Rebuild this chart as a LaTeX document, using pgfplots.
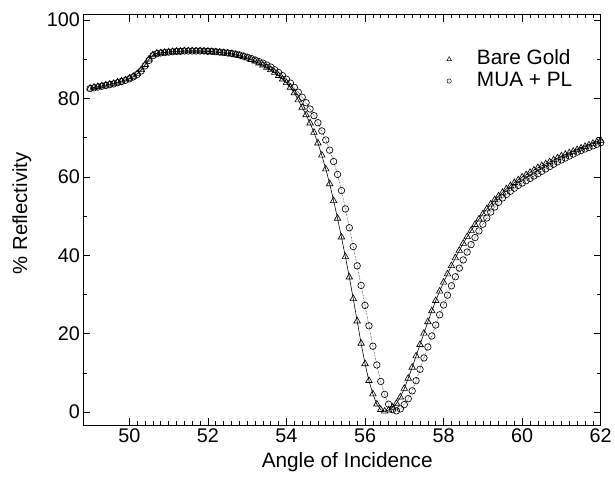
\documentclass[border=0pt]{standalone}
\usepackage{pgfplots}
\pgfplotsset{compat=1.18}
\usepackage{pgfplotstable}
\usepackage{fontspec}
\setmainfont{Liberation Sans}
\pgfplotstableread{
x y
49.0 82.6
49.1 82.8
49.2 83.0
49.3 83.2
49.4 83.4
49.5 83.6
49.6 83.8
49.7 84.1
49.8 84.4
49.9 84.7
50.0 85.1
50.1 85.6
50.2 86.3
50.3 87.3
50.4 88.6
50.5 90.0
50.6 91.1
50.7 91.5
50.8 91.6
50.9 91.7
51.0 91.8
51.1 91.9
51.2 92.0
51.3 92.0
51.4 92.1
51.5 92.1
51.6 92.1
51.7 92.1
51.8 92.1
51.9 92.0
52.0 92.0
52.1 91.9
52.2 91.8
52.3 91.7
52.4 91.6
52.5 91.5
52.6 91.3
52.7 91.1
52.8 90.9
52.9 90.6
53.0 90.3
53.1 89.9
53.2 89.5
53.3 89.0
53.4 88.5
53.5 87.9
53.6 87.3
53.7 86.6
53.8 85.8
53.9 84.9
54.0 84.0
54.1 82.8
54.2 81.4
54.3 79.6
54.4 77.7
54.5 75.8
54.6 73.7
54.7 71.3
54.8 68.6
54.9 65.5
55.0 62.0
55.1 58.2
55.2 53.9
55.3 49.4
55.4 44.6
55.5 39.6
55.6 34.4
55.7 28.9
55.8 23.2
55.9 17.5
56.0 12.3
56.1 8.0
56.2 4.6
56.3 2.0
56.4 0.6
56.5 0.2
56.6 0.5
56.7 1.2
56.8 2.2
56.9 3.8
57.0 6.0
57.1 8.6
57.2 11.4
57.3 14.3
57.4 17.2
57.5 20.1
57.6 23.0
57.7 25.8
57.8 28.4
57.9 30.8
58.0 33.1
58.1 35.2
58.2 37.3
58.3 39.3
58.4 41.2
58.5 43.0
58.6 44.7
58.7 46.3
58.8 47.8
58.9 49.2
59.0 50.5
59.1 51.8
59.2 53.0
59.3 54.1
59.4 55.1
59.5 56.0
59.6 56.9
59.7 57.7
59.8 58.5
59.9 59.2
60.0 59.9
60.1 60.5
60.2 61.1
60.3 61.7
60.4 62.3
60.5 62.8
60.6 63.3
60.7 63.8
60.8 64.3
60.9 64.8
61.0 65.3
61.1 65.7
61.2 66.1
61.3 66.5
61.4 66.9
61.5 67.3
61.6 67.7
61.7 68.1
61.8 68.5
61.9 68.9
62.0 69.3
}\baregold
\pgfplotstableread{
x y
49.0 82.5
49.1 82.7
49.2 82.9
49.3 83.1
49.4 83.3
49.5 83.5
49.6 83.7
49.7 84.0
49.8 84.3
49.9 84.6
50.0 85.0
50.1 85.5
50.2 86.1
50.3 87.0
50.4 88.3
50.5 89.7
50.6 90.9
50.7 91.4
50.8 91.6
50.9 91.7
51.0 91.8
51.1 91.9
51.2 92.0
51.3 92.0
51.4 92.1
51.5 92.1
51.6 92.1
51.7 92.1
51.8 92.1
51.9 92.1
52.0 92.0
52.1 92.0
52.2 91.9
52.3 91.8
52.4 91.7
52.5 91.6
52.6 91.5
52.7 91.3
52.8 91.1
52.9 90.8
53.0 90.5
53.1 90.2
53.2 89.8
53.3 89.4
53.4 89.0
53.5 88.5
53.6 88.0
53.7 87.3
53.8 86.6
53.9 85.8
54.0 84.9
54.1 83.9
54.2 82.8
54.3 81.6
54.4 80.3
54.5 78.9
54.6 77.3
54.7 75.6
54.8 73.8
54.9 71.7
55.0 69.4
55.1 66.8
55.2 63.9
55.3 60.6
55.4 56.5
55.5 51.8
55.6 47.0
55.7 42.2
55.8 37.3
55.9 32.3
56.0 27.2
56.1 22.0
56.2 16.8
56.3 12.0
56.4 7.8
56.5 4.5
56.6 2.0
56.7 0.6
56.8 0.3
56.9 0.8
57.0 1.9
57.1 3.4
57.2 5.4
57.3 8.0
57.4 10.9
57.5 13.8
57.6 16.6
57.7 19.4
57.8 22.2
57.9 24.8
58.0 27.3
58.1 29.8
58.2 32.2
58.3 34.5
58.4 36.7
58.5 38.8
58.6 40.8
58.7 42.7
58.8 44.5
58.9 46.2
59.0 47.9
59.1 49.5
59.2 51.0
59.3 52.3
59.4 53.5
59.5 54.6
59.6 55.5
59.7 56.3
59.8 57.1
59.9 57.8
60.0 58.4
60.1 59.0
60.2 59.6
60.3 60.2
60.4 60.8
60.5 61.4
60.6 62.0
60.7 62.6
60.8 63.2
60.9 63.8
61.0 64.3
61.1 64.8
61.2 65.3
61.3 65.8
61.4 66.3
61.5 66.7
61.6 67.1
61.7 67.5
61.8 67.9
61.9 68.3
62.0 68.7
}\muapl
\begin{document}
\begin{tikzpicture}
\begin{axis}[
  scale only axis,
  width=521bp, height=413bp,
  xmin=48.83, xmax=62.0,
  ymin=-3.3, ymax=101.3,
  xtick={50,52,...,62},
  ytick={0,20,...,100},
  minor x tick num=9,
  minor y tick num=1,
  tick align=inside,
  major tick length=7bp,
  minor tick length=3.5bp,
  axis line style={line width=0.8pt},
  every tick/.style={black, line width=0.6pt},
  tick label style={font=\fontsize{20}{22}\selectfont},
  /pgf/number format/assume math mode=true,
  xlabel={Angle of Incidence},
  ylabel={\% Reflectivity},
  every axis x label/.style={at={(rel axis cs:0.51,0)}, yshift=-37bp, anchor=center,
    font=\fontsize{21}{23}\selectfont},
  every axis y label/.style={at={(rel axis cs:0,0.516)}, xshift=-62bp, rotate=90, anchor=center,
    font=\fontsize{20.5}{23}\selectfont},
  legend style={draw=none, fill=none, at={(rel axis cs:0.699,0.919)}, anchor=north west,
    inner sep=0pt, row sep=0pt, column sep=0pt,
    font=\fontsize{21}{23}\selectfont,
    nodes={inner sep=1bp, text height=15bp, text depth=5bp}},
  legend cell align=left,
  legend image code/.code={\path[draw=none, fill=none] (0,-4bp) rectangle (31bp,4bp); \draw[#1] plot coordinates {(4bp,0)};},
  clip=false,
]
\addplot[black, line width=0.6pt, mark=triangle, mark size=3.8pt,
  mark options={solid, line width=0.65pt}, forget plot] table[x=x,y=y] {\baregold};
\addplot[black, densely dotted, line width=0.5pt, mark=o, mark size=3.3pt,
  mark options={solid, line width=0.65pt}, forget plot] table[x=x,y=y] {\muapl};
\addlegendimage{only marks, mark=triangle, mark size=2.6pt, black, mark options={line width=0.5pt}}
\addlegendentry{Bare Gold}
\addlegendimage{only marks, mark=o, mark size=2.2pt, black, mark options={line width=0.5pt}}
\addlegendentry{MUA + PL}
\path (rel axis cs:0,0) ++(-84bp,-57bp) (rel axis cs:1,1) ++(11bp,15bp);
\end{axis}
\end{tikzpicture}
\end{document}
